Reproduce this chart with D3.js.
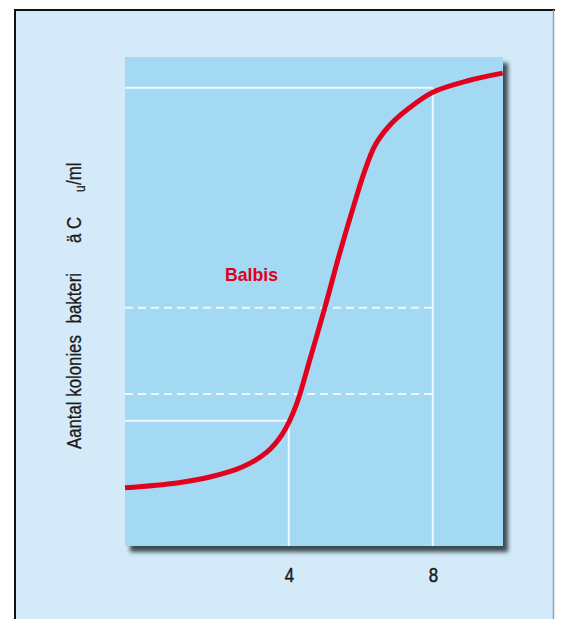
<!DOCTYPE html>
<html><head><meta charset="utf-8">
<script src="https://cdn.jsdelivr.net/npm/d3@7"></script>
<style>
html,body{margin:0;padding:0;background:#fff;}
svg{display:block;}
</style></head>
<body>
<script>
// Curve data (x: time units, y: relative level)
const curveX = [-0.55, 0.89, 1.81, 2.72, 3.39, 3.83, 4.19, 4.6, 5.0, 5.4, 5.8, 6.1, 6.4, 6.8, 7.3, 8.0, 9.0, 9.94];
const curveY = [1.19, 1.29, 1.41, 1.62, 1.92, 2.30, 2.85, 3.85, 4.87, 5.95, 6.95, 7.65, 8.2, 8.6, 8.93, 9.28, 9.52, 9.67];
const tickValues = [4, 8];
const tickLabels = ["4", "8"];
const solidLevels = [9.37, 2.56];      // horizontal solid guide lines
const solidLevelEnds = [8, 4];         // x where each solid guide ends / vertical drops
const dashedLevels = [4.87, 3.11];
const dashedEnd = 8;
const yLabelParts = ["Aantal kolonies", "bakteri", "ä C", "u", "/ml"];
const curveLabel = "Balbis";

const W = 563, H = 619;
const svg = d3.select("body").append("svg").attr("width", W).attr("height", H);

const defs = svg.append("defs");
const f = defs.append("filter").attr("id","sh").attr("x","-10%").attr("y","-10%").attr("width","130%").attr("height","130%");
f.append("feDropShadow").attr("dx",5).attr("dy",6).attr("stdDeviation",2.2).attr("flood-color","#2a3a40").attr("flood-opacity",0.9);

// outer frame
svg.append("rect").attr("x",15).attr("y",10).attr("width",539).attr("height",H-10).attr("fill","#d4eaf8");
svg.append("line").attr("x1",14).attr("x2",555).attr("y1",10).attr("y2",10).attr("stroke","#111").attr("stroke-width",2);
svg.append("line").attr("x1",15).attr("x2",15).attr("y1",9).attr("y2",H).attr("stroke","#111").attr("stroke-width",2);
svg.append("line").attr("x1",553.5).attr("x2",553.5).attr("y1",10).attr("y2",H).attr("stroke","#8fa2ae").attr("stroke-width",1.5);

const L = 125, R = 503, T = 57, B = 546;
const x = d3.scaleLinear().domain([-0.55, 9.95]).range([L, R]);
const y = d3.scaleLinear().domain([0, 10]).range([B, T]);

svg.append("rect").attr("x",L).attr("y",T).attr("width",R-L).attr("height",B-T)
  .attr("fill","#a3d9f2").attr("filter","url(#sh)");

const g = svg.append("g");
const wc = "#eef7fc";
solidLevels.forEach((lv,i)=>{
  g.append("line").attr("x1",L).attr("x2",x(solidLevelEnds[i])).attr("y1",y(lv)).attr("y2",y(lv))
    .attr("stroke",wc).attr("stroke-width",2);
  g.append("line").attr("x1",x(solidLevelEnds[i])).attr("x2",x(solidLevelEnds[i])).attr("y1",y(lv)).attr("y2",B)
    .attr("stroke",wc).attr("stroke-width",2);
});
dashedLevels.forEach(lv=>{
  g.append("line").attr("x1",L).attr("x2",x(dashedEnd)).attr("y1",y(lv)).attr("y2",y(lv))
    .attr("stroke",wc).attr("stroke-width",2).attr("stroke-dasharray","8,5");
});

const pts = curveX.map((d,i)=>[d,curveY[i]]);
g.append("path").datum(pts)
  .attr("d", d3.line().x(d=>x(d[0])).y(d=>y(d[1])).curve(d3.curveCatmullRom.alpha(0.5)))
  .attr("fill","none").attr("stroke","#e2001f").attr("stroke-width",5);

const ff = "'Liberation Sans','Arial',sans-serif";
// x axis labels
const ax = svg.append("g").attr("transform",`translate(0,${B})`)
  .call(d3.axisBottom(x).tickValues(tickValues).tickFormat((d,i)=>tickLabels[i]).tickSize(0).tickPadding(0));
ax.select(".domain").remove();
ax.selectAll(".tick text").attr("y",null).attr("dy",null)
  .attr("transform","translate(0,36) scale(0.8,1)")
  .attr("font-family",ff).attr("font-size",21).attr("fill","#1a1a1a").attr("stroke","#1a1a1a").attr("stroke-width",0.5);

// y label
const yl = svg.append("g").attr("font-family",ff).attr("font-size",21).attr("fill","#1a1a1a")
  .attr("stroke","#1a1a1a").attr("stroke-width",0.3);
const rt = (tx,ty)=>`translate(${tx},${ty}) rotate(-90) scale(0.8,1)`;
yl.append("text").attr("transform",rt(81,449)).attr("text-anchor","start").text(yLabelParts[0]);
yl.append("text").attr("transform",rt(81,273)).attr("text-anchor","end").text(yLabelParts[1]);
yl.append("text").attr("transform",rt(81,243)).attr("text-anchor","start").text(yLabelParts[2]);
yl.append("text").attr("transform",rt(85,192)).attr("text-anchor","start").attr("font-size",15).text(yLabelParts[3]);
yl.append("text").attr("transform",rt(81,185)).attr("text-anchor","start").text(yLabelParts[4]);

// curve label
svg.append("text").attr("x",225).attr("y",281).attr("font-family",ff).attr("font-weight","bold")
  .attr("font-size",19).attr("fill","#e2001f").attr("textLength",53).attr("lengthAdjust","spacingAndGlyphs").text(curveLabel);
</script>
</body></html>
